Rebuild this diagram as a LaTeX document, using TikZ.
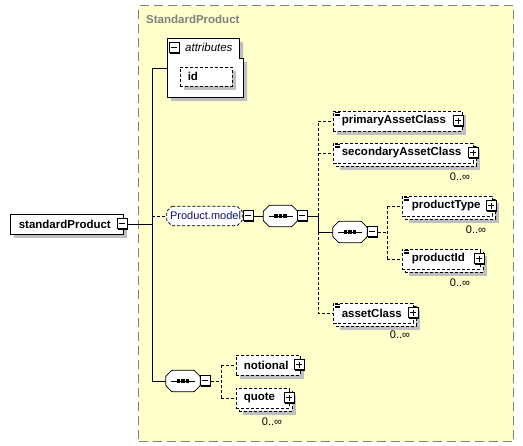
\documentclass[tikz,border=0pt]{standalone}
\usepackage{fontspec}
\setmainfont{Liberation Sans}
\usetikzlibrary{shadows}
\definecolor{grpfill}{RGB}{255,255,204}
\definecolor{grpline}{RGB}{128,128,128}
\definecolor{refblue}{RGB}{20,20,110}
\tikzset{
  shd/.style={drop shadow={shadow xshift=4pt,shadow yshift=-4pt,fill=gray!50,opacity=1}},
  pmshd/.style={drop shadow={shadow xshift=1pt,shadow yshift=-1pt,fill=black,opacity=1}},
  elbox/.style={rectangle,draw,fill=white,dash pattern=on 3pt off 2pt,line width=0.8pt,inner sep=0pt,minimum height=20pt},
  solidbox/.style={rectangle,draw,fill=white,line width=0.8pt,inner sep=0pt,minimum height=20pt},
  lbl/.style={anchor=west,inner sep=0pt,font=\fontsize{11.5}{13}\selectfont\bfseries},
  card/.style={inner sep=0pt,font=\fontsize{11}{13}\selectfont},
  mbox/.style={rectangle,draw,fill=white,line width=1pt,minimum size=10pt,inner sep=0pt,pmshd,
    path picture={\draw[line width=1pt] ([xshift=2pt]path picture bounding box.west) -- ([xshift=-2pt]path picture bounding box.east);}},
  pbox/.style={rectangle,draw,fill=white,line width=1pt,minimum size=10pt,inner sep=0pt,pmshd,
    path picture={\draw[line width=1pt] ([xshift=2pt]path picture bounding box.west) -- ([xshift=-2pt]path picture bounding box.east)
      ([yshift=-2pt]path picture bounding box.north) -- ([yshift=2pt]path picture bounding box.south);}},
  comp/.style={rectangle,inner sep=0pt,minimum width=34pt,minimum height=21pt},
  conn/.style={line width=0.8pt},
  dconn/.style={line width=0.8pt,dash pattern=on 3pt off 2pt},
  icon/.style={line width=0.6pt},
}
% chamfered outline of a node: #1 node, #2 chamfer, #3 draw options
\newcommand{\octa}[3]{%
  \fill[gray!50,xshift=4pt,yshift=-4pt,rounded corners=0.6pt]
    ([xshift=#2]#1.north west) -- ([xshift=-#2]#1.north east) -- ([yshift=-#2]#1.north east) -- ([yshift=#2]#1.south east)
    -- ([xshift=-#2]#1.south east) -- ([xshift=#2]#1.south west) -- ([yshift=#2]#1.south west) -- ([yshift=-#2]#1.north west) -- cycle;
  \draw[fill=white,line width=0.8pt,rounded corners=0.6pt,#3]
    ([xshift=#2]#1.north west) -- ([xshift=-#2]#1.north east) -- ([yshift=-#2]#1.north east) -- ([yshift=#2]#1.south east)
    -- ([xshift=-#2]#1.south east) -- ([xshift=#2]#1.south west) -- ([yshift=#2]#1.south west) -- ([yshift=-#2]#1.north west) -- cycle;}
\newcommand{\seqicon}[1]{%
  \draw[line width=0.8pt] ([xshift=-12pt]#1.center) -- ([xshift=12pt]#1.center);
  \fill ([xshift=-4.5pt]#1.center) ++(-1.6,-1.6) rectangle ++(3.2,3.2);
  \fill (#1.center) ++(-1.6,-1.6) rectangle ++(3.2,3.2);
  \fill ([xshift=4.5pt]#1.center) ++(-1.6,-1.6) rectangle ++(3.2,3.2);}
\newcommand{\elicon}[1]{%
  \draw[icon] ([xshift=2pt,yshift=-1.5pt]#1.north west) -- ++(5,0)
              ([xshift=2pt,yshift=-3.3pt]#1.north west) -- ++(5,0)
              ([xshift=2pt,yshift=-5.1pt]#1.north west) -- ++(5,0);}
\begin{document}
\begin{tikzpicture}[x=1pt,y=-1pt]
\useasboundingbox (0,0) rectangle (523,446);
% group frame
\node[draw=grpline,fill=grpfill,line width=1.2pt,dash pattern=on 9pt off 5pt,minimum width=375pt,minimum height=436pt,anchor=north west,inner sep=0pt] (grp) at (138,5) {};
\node[anchor=west,inner sep=0pt,text=grpline,font=\fontsize{11.5}{13}\selectfont\bfseries] (grplbl) at (146,19) {StandardProduct};

% root element
\node[solidbox,shd,minimum width=113pt] (sp) at (66.5,224) {};
\node[lbl] (sptxt) at ([xshift=9pt]sp.west) {standardProduct};
\node[mbox] (spm) at (122,224) {};

% attributes box
\fill[gray!50] (171,42) -- (243,42) -- (243,62) -- (247,62) -- (247,101) -- (171,101) -- cycle;
\draw[fill=white,line width=0.8pt] (167,38) -- (239,38) -- (239,58) -- (243,58) -- (243,97) -- (167,97) -- cycle;
\coordinate (attr) at (167,68);
\node[mbox] (attrm) at (174,48) {};
\node[anchor=west,inner sep=0pt,font=\fontsize{11.5}{13}\selectfont\itshape] (attrtxt) at (185,47) {attributes};
\node[elbox,shd,minimum width=52pt,minimum height=19pt] (id) at (206,76.5) {};
\node[lbl] (idtxt) at ([xshift=8pt]id.west) {id};

% trunk
\coordinate (tr) at (152,224);
\coordinate (ta) at (152,68);
\coordinate (tb) at (152,381);

% Product.model group ref
\node[rectangle,inner sep=0pt,minimum width=75pt,minimum height=19pt] (pm) at (204.5,216) {};
\octa{pm}{5pt}{dash pattern=on 3pt off 2pt}
\node[inner sep=0pt,text=refblue,font=\fontsize{11}{13}\selectfont] (pmtxt) at (205.5,216) {Product.model};
\node[mbox] (pmm) at (248,216) {};

% compositor 1
\node[comp] (c1) at (280.5,216) {};
\octa{c1}{6pt}{}
\seqicon{c1}
\node[mbox] (c1m) at (302,216) {};
\coordinate (v1) at (318,216);
\coordinate (v1top) at (318,121);
\coordinate (v1bot) at (318,313);

% primaryAssetClass
\node[elbox,shd,minimum width=129pt] (pac) at (397.5,121) {};
\elicon{pac}
\node[lbl] (pactxt) at ([xshift=9pt]pac.west) {primaryAssetClass};
\node[pbox] (pacp) at (458,121) {};

% secondaryAssetClass (multi)
\node[elbox,shd,minimum width=140pt] (sacB) at (406,156) {};
\node[elbox,minimum width=140pt] (sac) at (403,153) {};
\elicon{sac}
\node[lbl] (sactxt) at ([xshift=9pt]sac.west) {secondaryAssetClass};
\node[pbox] (sacp) at (473,153) {};
\node[card] (sacc) at (460,177) {0..∞};

% compositor 2
\node[comp] (c2) at (350,232) {};
\octa{c2}{6pt}{}
\seqicon{c2}
\node[mbox] (c2m) at (372,232) {};
\coordinate (v2) at (387,232);

% productType (multi)
\node[elbox,shd,minimum width=90pt] (ptB) at (450,209) {};
\node[elbox,minimum width=90pt] (pt) at (447,206) {};
\elicon{pt}
\node[lbl] (pttxt) at ([xshift=10pt]pt.west) {productType};
\node[pbox] (ptp) at (491,206) {};
\node[card] (ptc) at (476,230) {0..∞};

% productId (multi)
\node[elbox,shd,minimum width=78pt] (piB) at (444,262) {};
\node[elbox,minimum width=78pt] (pi) at (441,259) {};
\elicon{pi}
\node[lbl] (pitxt) at ([xshift=10pt]pi.west) {productId};
\node[pbox] (pip) at (479,259) {};
\node[card] (pic) at (460,283) {0..∞};

% assetClass (multi)
\node[elbox,shd,minimum width=80pt] (acB) at (376,316) {};
\node[elbox,minimum width=80pt] (ac) at (373,313) {};
\elicon{ac}
\node[lbl] (actxt) at ([xshift=9pt]ac.west) {assetClass};
\node[pbox] (acp) at (413,313) {};
\node[card] (acc) at (400,335) {0..∞};

% compositor 3
\node[comp] (c3) at (183,381) {};
\octa{c3}{6pt}{}
\seqicon{c3}
\node[mbox] (c3m) at (205,381) {};
\coordinate (v3) at (221,381);

% notional
\node[elbox,shd,minimum width=64pt] (no) at (268,365) {};
\node[lbl] (notxt) at ([xshift=8pt]no.west) {notional};
\node[pbox] (nop) at (299,365) {};

% quote (multi)
\node[elbox,shd,minimum width=53pt] (quB) at (265.5,401) {};
\node[elbox,minimum width=53pt] (qu) at (262.5,398) {};
\node[lbl] (qutxt) at ([xshift=8pt]qu.west) {quote};
\node[pbox] (qup) at (289,398) {};
\node[card] (quc) at (272,422) {0..∞};

% connectors
\draw[conn] (spm.east) -- (tr);
\draw[conn] (attr) -- (ta) -- (tb) -- (c3.west);
\draw[dconn] (pm.west -| tr) -- (pm.west);
\draw[conn] (pmm.east) -- (c1.west);
\draw[conn] (c1m.east) -- (v1) -- (v1 |- c2.west) -- (c2.west);
\draw[dconn] (v1) -- (v1top) -- (pac.west);
\draw[dconn] (v1 |- c2.west) -- (v1bot) -- (ac.west);
\draw[dconn] (v1 |- sac.west) -- (sac.west);
\draw[dconn] (c2m.east) -- (v2);
\draw[dconn] (v2 |- pt.west) -- (v2 |- pi.west);
\draw[dconn] (v2 |- pt.west) -- (pt.west);
\draw[dconn] (v2 |- pi.west) -- (pi.west);
\draw[dconn] (c3m.east) -- (v3);
\draw[dconn] (v3 |- no.west) -- (v3 |- qu.west);
\draw[dconn] (v3 |- no.west) -- (no.west);
\draw[dconn] (v3 |- qu.west) -- (qu.west);
\end{tikzpicture}
\end{document}
